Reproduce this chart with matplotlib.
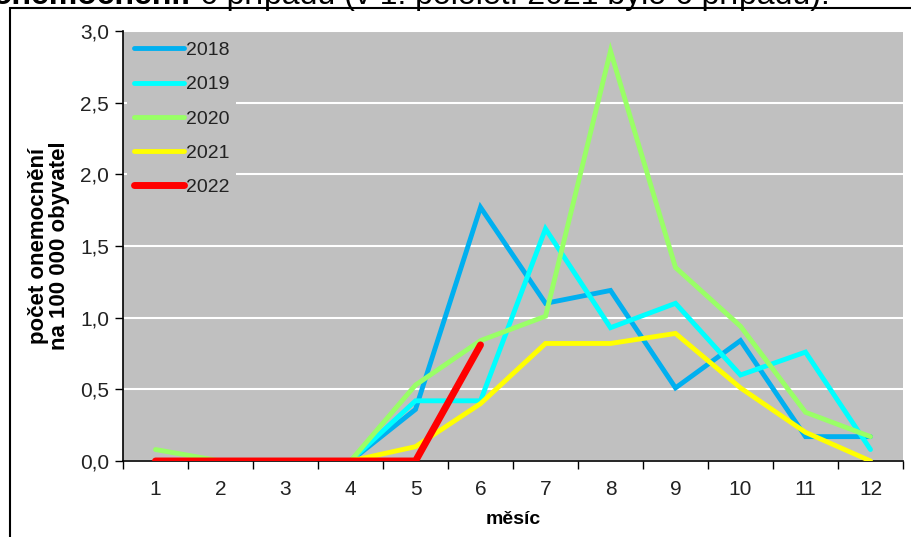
import matplotlib
matplotlib.use('Agg')
import matplotlib.pyplot as plt
from matplotlib.patches import Rectangle

# mesice a hodnoty (pocet onemocneni na 100 000 obyvatel)
months = [1, 2, 3, 4, 5, 6, 7, 8, 9, 10, 11, 12]
y2018 = [0, 0, 0, 0, 0.36, 1.77, 1.10, 1.19, 0.51, 0.84, 0.17, 0.17]
y2019 = [0, 0, 0, 0, 0.42, 0.42, 1.62, 0.93, 1.10, 0.60, 0.76, 0.08]
y2020 = [0.08, 0, 0, 0, 0.53, 0.84, 1.01, 2.86, 1.35, 0.94, 0.34, 0.17]
y2021 = [0, 0, 0, 0, 0.10, 0.40, 0.82, 0.82, 0.89, 0.51, 0.20, 0.0]
months_2022 = [1, 2, 3, 4, 5, 6]
y2022 = [0, 0, 0, 0, 0, 0.81]

series = [('2018', months, y2018, '#00B0F0', 3.5),
          ('2019', months, y2019, '#00FFFF', 3.5),
          ('2020', months, y2020, '#99FF66', 3.5),
          ('2021', months, y2021, '#FFFF00', 3.5),
          ('2022', months_2022, y2022, '#FF0000', 5.0)]

plt.rcParams['font.family'] = ['Liberation Sans', 'DejaVu Sans']

fig = plt.figure(figsize=(9.12, 5.37), dpi=100)

# oramovani obrazku
fig.patches.append(Rectangle((10 / 912, -0.05), 1.0, 1 - 8 / 537 + 0.05,
                             transform=fig.transFigure, fill=False,
                             edgecolor='black', linewidth=1.5))

# useknuty radek textu nad grafem
fig.text(192 / 912, 1 - 4 / 537, 'onemocnění:', fontsize=23, fontweight='bold',
         va='baseline', ha='right')
fig.text(200 / 912, 1 - 4 / 537, '6 případů (v 1. pololetí 2021 bylo 6 případů).',
         fontsize=23, va='baseline', ha='left')

ax = fig.add_axes([123 / 912, 76 / 537, 780 / 912, 430 / 537])
ax.set_facecolor('#C0C0C0')

for label, x, y, color, lw in series:
    ax.plot(x, y, color=color, linewidth=lw, label=label,
            solid_capstyle='round', solid_joinstyle='miter', zorder=3)

ax.set_xlim(0.5, 12.5)
ax.set_ylim(0, 3.0)

# y osa
yticks = [0, 0.5, 1.0, 1.5, 2.0, 2.5, 3.0]
ax.set_yticks(yticks)
ax.set_yticklabels([f'{v:.1f}'.replace('.', ',') for v in yticks], fontsize=15,
                   color='#222222')
ax.yaxis.grid(True, color='white', linewidth=1.5, zorder=1)
ax.set_axisbelow(True)

# x osa - carky mezi kategoriemi
ax.set_xticks([m + 0.5 for m in [0] + months])
ax.set_xticklabels([])
ax.set_xticks(months, minor=True)
ax.set_xticklabels([str(m) for m in months], minor=True, fontsize=15,
                   color='#222222')
ax.tick_params(axis='x', which='minor', length=0, pad=14)
ax.tick_params(axis='x', which='major', length=6, width=1)
ax.tick_params(axis='y', length=6, width=1, pad=4)

for side in ['top', 'right']:
    ax.spines[side].set_visible(False)
for side in ['left', 'bottom']:
    ax.spines[side].set_linewidth(1.2)

ax.set_xlabel('měsíc', fontsize=14, fontweight='bold', labelpad=8)
ax.set_ylabel('počet onemocnění\nna 100 000 obyvatel', fontsize=16,
              fontweight='bold', labelpad=7, linespacing=1.0)

leg = ax.legend(loc='upper left', bbox_to_anchor=(0.0, 1.0), frameon=True,
                facecolor='#C0C0C0', edgecolor='none', framealpha=1,
                prop={'size': 14}, handlelength=2.6,
                handletextpad=0.1, labelspacing=0.85, borderpad=0.35,
                borderaxespad=0.2, fancybox=False)
for text in leg.get_texts():
    text.set_color('#222222')
leg.set_zorder(2)

fig.savefig('out.png', dpi=100)
